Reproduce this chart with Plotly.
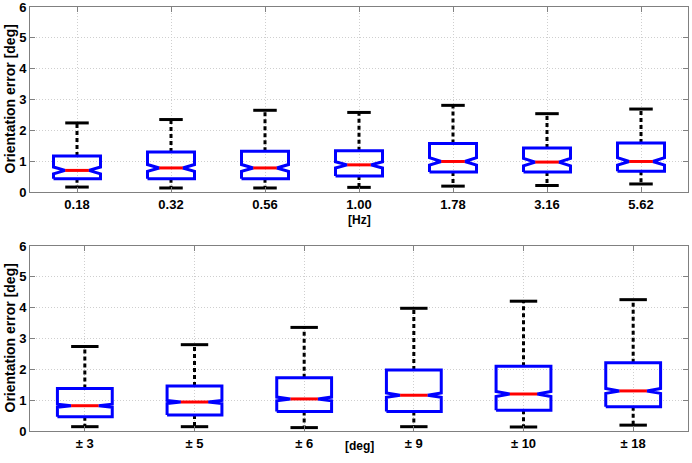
import plotly.graph_objects as go

# ---------------- data ----------------
freq_labels = ["0.18", "0.32", "0.56", "1.00", "1.78", "3.16", "5.62"]
freq_lower = [0.16, 0.13, 0.13, 0.15, 0.19, 0.21, 0.26]
freq_q1 = [0.43, 0.43, 0.43, 0.52, 0.65, 0.65, 0.67]
freq_median = [0.70, 0.78, 0.78, 0.88, 0.99, 0.97, 0.99]
freq_q3 = [1.17, 1.30, 1.32, 1.34, 1.57, 1.43, 1.59]
freq_upper = [2.24, 2.35, 2.65, 2.58, 2.81, 2.54, 2.69]
freq_notch = [0.11, 0.11, 0.11, 0.10, 0.12, 0.12, 0.12]

amp_labels = ["± 3", "± 5", "± 6", "± 9", "± 10", "± 18"]
amp_lower = [0.14, 0.14, 0.11, 0.14, 0.13, 0.19]
amp_q1 = [0.46, 0.52, 0.63, 0.63, 0.67, 0.79]
amp_median = [0.82, 0.94, 1.04, 1.16, 1.20, 1.30]
amp_q3 = [1.38, 1.46, 1.73, 1.98, 2.10, 2.21]
amp_upper = [2.74, 2.80, 3.36, 3.98, 4.21, 4.26]
amp_notch = [0.05, 0.05, 0.06, 0.07, 0.08, 0.08]

y_ticks = [0, 1, 2, 3, 4, 5, 6]
y_title = "Orientation error [deg]"
x_title_top = "[Hz]"
x_title_bottom = "[deg]"

BOX_HALF = 0.25
NOTCH_HALF = 0.125
CAP_HALF = 0.125
BLUE = "#0000FF"
RED = "#FF0000"
FONT = "Liberation Sans"

fig = go.Figure()


def add_boxes(labels, lower, q1, med, q3, upper, notch, xa, ya):
    wx, wy, cx, cy, bx, by, mx, my = [], [], [], [], [], [], [], []
    for i in range(len(labels)):
        x = i + 1
        wx += [x, x, None, x, x, None]
        wy += [q3[i], upper[i], None, q1[i], lower[i], None]
        cx += [x - CAP_HALF, x + CAP_HALF, None, x - CAP_HALF, x + CAP_HALF, None]
        cy += [upper[i], upper[i], None, lower[i], lower[i], None]
        m, n = med[i], notch[i]
        bx += [x - BOX_HALF, x + BOX_HALF, x + BOX_HALF, x + NOTCH_HALF, x + BOX_HALF,
               x + BOX_HALF, x - BOX_HALF, x - BOX_HALF, x - NOTCH_HALF, x - BOX_HALF,
               x - BOX_HALF, None]
        by += [q1[i], q1[i], m - n, m, m + n, q3[i], q3[i], m + n, m, m - n, q1[i], None]
        mx += [x - NOTCH_HALF, x + NOTCH_HALF, None]
        my += [m, m, None]
    common = dict(xaxis=xa, yaxis=ya, mode="lines", showlegend=False, hoverinfo="skip")
    fig.add_trace(go.Scatter(x=wx, y=wy, line=dict(color="black", width=3, dash="4px,3px"), **common))
    fig.add_trace(go.Scatter(x=cx, y=cy, line=dict(color="black", width=3), **common))
    fig.add_trace(go.Scatter(x=bx, y=by, line=dict(color=BLUE, width=3), **common))
    fig.add_trace(go.Scatter(x=mx, y=my, line=dict(color=RED, width=3), **common))


add_boxes(freq_labels, freq_lower, freq_q1, freq_median, freq_q3, freq_upper, freq_notch, "x", "y")
add_boxes(amp_labels, amp_lower, amp_q1, amp_median, amp_q3, amp_upper, amp_notch, "x2", "y2")

axis_common = dict(
    showline=True, linecolor="#808080", linewidth=1, mirror="ticks",
    ticks="inside", ticklen=5, tickcolor="#808080",
    showgrid=True, gridcolor="#cfcfcf", griddash="1px,2px", gridwidth=1,
    zeroline=False, automargin=False, ticklabeloverflow="allow",
    tickfont=dict(family=FONT, size=13, color="black", weight="bold"),
)
ytitle_font = dict(family=FONT, size=14, color="black", weight="bold")
xtitle_font = dict(family=FONT, size=12, color="black", weight="bold")

TOP_DOMAIN = [0.5637, 1.0]
BOT_DOMAIN = [0.0, 0.4363]

fig.update_layout(
    width=692, height=463,
    margin=dict(l=30, r=4, t=7, b=32),
    paper_bgcolor="white", plot_bgcolor="white",
    font=dict(family=FONT, color="black"),
    xaxis=dict(domain=[0, 1], anchor="y", range=[0.5, len(freq_labels) + 0.5],
               tickvals=list(range(1, len(freq_labels) + 1)), ticktext=freq_labels,
               **axis_common),
    yaxis=dict(domain=TOP_DOMAIN, anchor="x", range=[0, 6], tickvals=y_ticks,
               **axis_common),
    xaxis2=dict(domain=[0, 1], anchor="y2", range=[0.5, len(amp_labels) + 0.5],
                tickvals=list(range(1, len(amp_labels) + 1)), ticktext=amp_labels,
                **axis_common),
    yaxis2=dict(domain=BOT_DOMAIN, anchor="x2", range=[0, 6], tickvals=y_ticks,
                **axis_common),
    annotations=[
        dict(text=y_title, textangle=-90, x=0, y=sum(TOP_DOMAIN) / 2,
             xref="paper", yref="paper", xanchor="center", yanchor="middle",
             xshift=-20, showarrow=False, font=ytitle_font),
        dict(text=y_title, textangle=-90, x=0, y=sum(BOT_DOMAIN) / 2,
             xref="paper", yref="paper", xanchor="center", yanchor="middle",
             xshift=-20, showarrow=False, font=ytitle_font),
        dict(text=x_title_top, x=0.5, y=TOP_DOMAIN[0], xref="paper", yref="paper",
             xanchor="center", yanchor="top", yshift=-20, showarrow=False,
             borderpad=0, font=xtitle_font),
        dict(text=x_title_bottom, x=0.5, y=BOT_DOMAIN[0], xref="paper", yref="paper",
             xanchor="center", yanchor="top", yshift=-7, showarrow=False,
             borderpad=0, font=xtitle_font),
    ],
)

fig.write_html("out.html", config={"displayModeBar": False},
               post_script="document.body.style.margin='0';")
